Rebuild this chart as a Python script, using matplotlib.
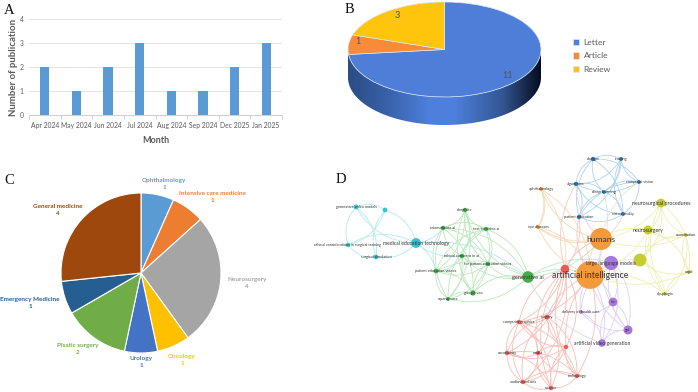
#!/usr/bin/env python3
"""Four panel bibliometric figure: monthly bar, 3D-look pie, field pie, keyword network."""

from itertools import combinations

import numpy as np

import matplotlib
matplotlib.use("Agg")
import matplotlib.pyplot as plt
from matplotlib.patches import FancyArrowPatch, Polygon

plt.rcParams["font.family"] = ["Lato", "DejaVu Sans"]

W, H = 698, 392

# ── Panel A ────────────────────────────────────────────────────────────────
months = ["Apr 2024", "May 2024", "Jun 2024", "Jul 2024",
          "Aug 2024", "Sep 2024", "Dec 2025", "Jan 2025"]
publications = [2, 1, 2, 3, 1, 1, 2, 3]

# ── Panel B ────────────────────────────────────────────────────────────────
type_names = ["Letter", "Article", "Review"]
type_counts = [11, 1, 3]
type_colors = ["#4F7ED9", "#F78B38", "#FFC40C"]

# ── Panel C ────────────────────────────────────────────────────────────────
field_names = ["Ophthalmology", "Intensive care medicine", "Neurosurgery", "Oncology",
               "Urology", "Plsatic surgery", "Emergency Medicine", "General medicine"]
field_counts = [1, 1, 4, 1, 1, 2, 1, 4]
field_colors = ["#5B9BD5", "#ED7D31", "#A5A5A5", "#FFC000",
                "#4472C4", "#70AD47", "#255E91", "#9E480E"]
field_label_x = [164, 212, 247, 182, 141, 78, 30, 58]
field_label_y = [184, 197, 283, 360, 362, 349, 303, 210]

# ── Panel D, node positions in image pixels ────────────────────────────────
cyan_names = ["generative video models", "", "ethical considerations in surgical training",
              "surgical simulation", "medical education technology"]
cyan_x = [356, 385, 348, 376, 416]
cyan_y = [207, 210, 245, 257, 243]
cyan_size = [12, 12, 10, 12, 50]
cyan_font = [2.8, 2.8, 2.7, 2.8, 3.6]

green_names = ["deepfake", "telemedicine ai", "text-to-video ai", "ethical concerns in ai",
               "for patient education videos", "patient education videos",
               "google veo", "openai sora", "generative ai"]
green_x = [465, 443, 486, 462, 488, 436, 473, 448, 528]
green_y = [210, 228, 229, 256, 264, 271, 293, 299, 277]
green_size = [10, 10, 10, 10, 10, 12, 14, 8, 70]
green_font = [2.8, 2.8, 2.8, 2.8, 2.8, 2.8, 2.8, 2.8, 4.1]

blue_names = ["chatgpt", "training", "algorithms", "computer vision",
              "deep learning", "virtual reality", "patient education"]
blue_x = [593, 621, 576, 639, 604, 623, 579]
blue_y = [159, 159, 184, 182, 192, 214, 217]
blue_size = [10, 8, 10, 8, 8, 8, 10]
blue_font = [2.8, 2.8, 2.8, 2.8, 3.0, 2.8, 2.8]

orange_names = ["ophthalmology", "eye diseases", "humans", "artificial intelligence"]
orange_x = [541, 538, 601, 590]
orange_y = [189, 227, 239, 275]
orange_size = [8, 8, 250, 400]
orange_font = [2.8, 2.8, 6.1, 6.2]

yellow_names = ["neurosurgical procedures", "neurosurgery", "examination", "", "dysphagia", "copd"]
yellow_x = [661, 648, 686, 640, 665, 689]
yellow_y = [203, 230, 235, 260, 294, 272]
yellow_size = [40, 40, 7, 85, 7, 7]
yellow_font = [3.8, 3.75, 2.8, 2.8, 2.8, 2.8]

purple_names = ["large language models", "llm", "gpt", "artificial video generation",
                "delivery of health care"]
purple_x = [611, 613, 628, 602, 581]
purple_y = [263, 302, 330, 343, 312]
purple_size = [105, 40, 42, 30, 7]
purple_font = [3.7, 2.8, 2.8, 3.6, 2.8]

red_names = ["", "surgery", "computer graphics", "", "media",
             "uncertainty", "technology", "audiovisual aids", "science"]
red_x = [565, 547, 519, 566, 538, 507, 577, 523, 551]
red_y = [269, 317, 322, 347, 353, 353, 376, 382, 388]
red_size = [38, 12, 10, 10, 10, 10, 10, 10, 10]
red_font = [2.8, 2.8, 2.8, 2.8, 2.8, 2.8, 2.8, 2.8, 2.8]

clusters = [
    (cyan_names, cyan_x, cyan_y, cyan_size, cyan_font, "#35C3D6", "#B5EAF0"),
    (green_names, green_x, green_y, green_size, green_font, "#3FAE49", "#BDE8BD"),
    (blue_names, blue_x, blue_y, blue_size, blue_font, "#2F7EC0", "#AFD2EE"),
    (orange_names, orange_x, orange_y, orange_size, orange_font, "#F39A3C", "#F8D9B5"),
    (yellow_names, yellow_x, yellow_y, yellow_size, yellow_font, "#C4CC2E", "#EEF0B0"),
    (purple_names, purple_x, purple_y, purple_size, purple_font, "#A678DC", "#E0CFF3"),
    (red_names, red_x, red_y, red_size, red_font, "#EE5A5A", "#F8BDB5"),
]

# links between clusters, as (x0, y0, x1, y1, colour)
cross_links = [
    (416, 243, 528, 277, "#B5EAF0"), (416, 243, 462, 256, "#B5EAF0"),
    (416, 243, 436, 271, "#B5EAF0"), (416, 243, 443, 228, "#B5EAF0"),
    (528, 277, 590, 275, "#BDE8BD"), (528, 277, 601, 239, "#BDE8BD"),
    (528, 277, 615, 263, "#BDE8BD"), (528, 277, 602, 343, "#D9D9E8"),
    (590, 275, 579, 217, "#F3C9C0"), (590, 275, 604, 192, "#D5DDEE"),
    (601, 239, 576, 184, "#E5D5E5"), (601, 239, 623, 214, "#E5D5E5"),
    (601, 239, 639, 182, "#EDE5C0"), (601, 239, 661, 203, "#EEF0B0"),
    (601, 239, 648, 230, "#EEF0B0"), (601, 239, 686, 235, "#EEF0B0"),
    (590, 275, 665, 294, "#EEF0B0"), (590, 275, 689, 272, "#EEF0B0"),
    (590, 275, 640, 260, "#EEF0B0"), (590, 275, 648, 230, "#EEF0B0"),
    (590, 275, 613, 302, "#E0CFF3"), (590, 275, 628, 330, "#E0CFF3"),
    (590, 275, 602, 343, "#E0CFF3"), (590, 275, 581, 312, "#E0CFF3"),
    (615, 263, 628, 330, "#E0CFF3"), (601, 239, 628, 330, "#E0CFF3"),
    (565, 269, 519, 322, "#F8BDB5"), (590, 275, 547, 317, "#F8BDB5"),
    (590, 275, 519, 322, "#F8BDB5"), (601, 239, 565, 269, "#F8BDB5"),
    (590, 275, 577, 376, "#F8BDB5"), (590, 275, 566, 347, "#F8BDB5"),
    (579, 217, 565, 269, "#F3C9C0"), (576, 184, 565, 269, "#F3C9C0"),
    (541, 189, 565, 269, "#F8D9B5"), (538, 227, 590, 275, "#F8D9B5"),
    (541, 189, 538, 227, "#F8D9B5"), (538, 227, 601, 239, "#F8D9B5"),
]


def px_axes(fig, left, top, width, height, **kwargs):
    return fig.add_axes([left / W, 1 - (top + height) / H, width / W, height / H], **kwargs)


fig = plt.figure(figsize=(W / 100, H / 100), dpi=100, facecolor="white")

# pixel overlay, used for the pie side, free labels and the network
overlay = fig.add_axes([0, 0, 1, 1], zorder=1)
overlay.set_axis_off()

# ── A: bars ────────────────────────────────────────────────────────────────
ax_a = px_axes(fig, 29, 19, 253, 96, zorder=2)
ax_a.bar(range(len(months)), publications, width=0.29, color="#5B9BD5", zorder=3)
ax_a.set_xlim(-0.5, len(months) - 0.5)
ax_a.set_ylim(0, 4)
ax_a.set_yticks(range(5))
ax_a.set_xticks(range(len(months)), months)
ax_a.set_xticks(np.arange(-0.5, len(months)), minor=True)
ax_a.tick_params(axis="x", which="major", length=0, pad=5, labelsize=4.9, labelcolor="#595959")
ax_a.tick_params(axis="x", which="minor", length=3, color="#D0D0D0", width=0.7)
ax_a.tick_params(axis="y", length=0, pad=4, labelsize=4.9, labelcolor="#595959")
ax_a.grid(axis="y", color="#E4E4E4", linewidth=0.7, zorder=0)
for side in ("top", "right", "left"):
    ax_a.spines[side].set_visible(False)
ax_a.spines["bottom"].set_color("#D0D0D0")
ax_a.set_xlabel("Month", fontsize=6.5, fontweight="bold", color="#595959", labelpad=5)
ax_a.set_ylabel("Number of publication", fontsize=6.9, fontweight="bold", color="#595959", labelpad=1)

# ── B: flattened pie on a shaded side wall ─────────────────────────────────
b_cx, b_cy, b_rx, b_ry, b_depth = 444.5, 49.5, 96.5, 47.5, 28
theta = np.linspace(0, np.pi, 120)
rim_x = b_cx + b_rx * np.cos(theta)
rim_y = b_cy + b_ry * np.sin(theta)
wall = Polygon(np.vstack([np.column_stack([rim_x, rim_y + b_depth]),
                          np.column_stack([rim_x[::-1], rim_y[::-1]])]),
               closed=True, transform=overlay.transData, facecolor="none", edgecolor="none")
overlay.add_patch(wall)
shade = np.array([[0.17, 0.30, 0.52], [0.22, 0.38, 0.66], [0.31, 0.50, 0.87],
                  [0.31, 0.50, 0.87], [0.20, 0.34, 0.58], [0.02, 0.05, 0.12]])
stops = np.array([0.0, 0.2, 0.42, 0.55, 0.8, 1.0])
ramp = np.linspace(0, 1, 256)
gradient = np.stack([np.interp(ramp, stops, shade[:, i]) for i in range(3)], axis=-1)[None, :, :]
img = overlay.imshow(gradient, extent=(b_cx - b_rx, b_cx + b_rx, b_cy + b_ry + b_depth, b_cy),
                     aspect="auto", zorder=1)
img.set_clip_path(wall)

ax_b = px_axes(fig, b_cx - b_rx, b_cy - b_ry, 2 * b_rx, 2 * b_ry, zorder=3)
b_wedges, _ = ax_b.pie(type_counts, colors=type_colors, startangle=90, counterclock=False,
                       wedgeprops={"edgecolor": "#DCE6F5", "linewidth": 0.5})
ax_b.set_aspect("auto")
ax_b.set_xlim(-1, 1)
ax_b.set_ylim(-1, 1)
for count, lx, ly in zip(type_counts, [508, 358, 397], [75, 42, 15]):
    ax_b.figure.text(lx / W, 1 - ly / H, str(count), fontsize=6.6, color="#44546A",
                     ha="center", va="center", zorder=6)
fig.legend(b_wedges, type_names, loc="upper left", bbox_to_anchor=(572.5 / W, 1 - 39 / H),
           frameon=False, fontsize=6.1, labelcolor="#595959", handlelength=0.75, handleheight=0.75,
           handletextpad=0.55, labelspacing=0.75, borderpad=0, borderaxespad=0)

# ── C: field pie ───────────────────────────────────────────────────────────
ax_c = px_axes(fig, 61, 193, 160, 160, zorder=3)
ax_c.pie(field_counts, colors=field_colors, startangle=90, counterclock=False, radius=1,
         wedgeprops={"edgecolor": "white", "linewidth": 0.8})
ax_c.set_xlim(-1, 1)
ax_c.set_ylim(-1, 1)
for name, count, color, lx, ly in zip(field_names, field_counts, field_colors, field_label_x, field_label_y):
    overlay.text(lx, ly, f"{name}\n{count}", fontsize=4.6, fontweight="bold", color=color,
                 ha="center", va="center", linespacing=1.35, zorder=6)

# ── D: keyword network ─────────────────────────────────────────────────────
for names, xs, ys, sizes, fonts, node_color, link_color in clusters:
    for n, (i, j) in enumerate(combinations(range(len(xs)), 2)):
        rad = 0.28 if n % 2 else -0.28
        overlay.add_patch(FancyArrowPatch((xs[i], ys[i]), (xs[j], ys[j]), arrowstyle="-",
                                          connectionstyle=f"arc3,rad={rad}", color=link_color,
                                          linewidth=0.6, shrinkA=0, shrinkB=0, zorder=2))
for n, (x0, y0, x1, y1, color) in enumerate(cross_links):
    rad = 0.22 if n % 2 else -0.22
    overlay.add_patch(FancyArrowPatch((x0, y0), (x1, y1), arrowstyle="-",
                                      connectionstyle=f"arc3,rad={rad}", color=color,
                                      linewidth=0.6, shrinkA=0, shrinkB=0, zorder=2))
for names, xs, ys, sizes, fonts, node_color, link_color in clusters:
    overlay.scatter(xs, ys, s=sizes, color=node_color, linewidths=0, zorder=4)
    for name, x, y, font in zip(names, xs, ys, fonts):
        if name:
            overlay.text(x, y, name, fontsize=font, color="#333333", ha="center", va="center", zorder=5)

# ── Panel letters ──────────────────────────────────────────────────────────
for letter, lx, ly in zip("ABCD", [9, 349, 9, 341], [10, 9, 180, 179]):
    overlay.text(lx, ly, letter, fontsize=10.5, family="Liberation Serif", color="#111111",
                 ha="center", va="center", zorder=6)

overlay.set_xlim(0, W)
overlay.set_ylim(H, 0)

fig.savefig("out.png", dpi=100)
